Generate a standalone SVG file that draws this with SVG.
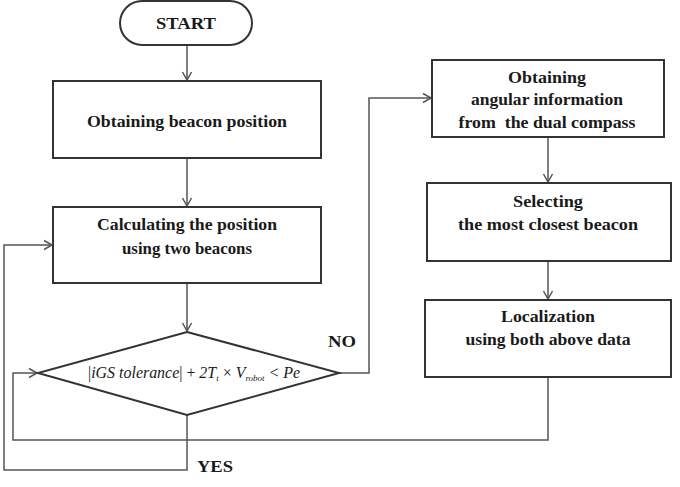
<svg xmlns="http://www.w3.org/2000/svg" width="680" height="487" viewBox="0 0 680 487">
<defs>
<style>
.box{fill:#fff;stroke:#333;stroke-width:2}
.ln{fill:none;stroke:#555;stroke-width:1.5}
.t{font-family:'Liberation Serif','DejaVu Serif',serif;font-weight:bold;font-size:17px;fill:#1a1a1a;text-anchor:middle}
.f{font-family:'Liberation Serif','DejaVu Serif',serif;font-style:italic;font-size:16px;fill:#1a1a1a}
</style>
<marker id="ah" markerWidth="12" markerHeight="12" refX="9" refY="6" orient="auto" markerUnits="userSpaceOnUse">
<path d="M1,1.5 L9,6 L1,10.5" fill="none" stroke="#555" stroke-width="1.5"/>
</marker>
</defs>
<rect width="680" height="487" fill="#fff"/>
<g id="connectors">
<line class="ln" x1="187" y1="45" x2="187" y2="80" marker-end="url(#ah)"/>
<line class="ln" x1="187" y1="158" x2="187" y2="206" marker-end="url(#ah)"/>
<line class="ln" x1="187" y1="283" x2="187" y2="331" marker-end="url(#ah)"/>
<polyline class="ln" points="339,373 369,373 369,98 431,98" marker-end="url(#ah)"/>
<line class="ln" x1="548" y1="137" x2="548" y2="182" marker-end="url(#ah)"/>
<line class="ln" x1="548" y1="261" x2="548" y2="299" marker-end="url(#ah)"/>
<polyline class="ln" points="548,377 548,440 13,440 13,373 37,373" marker-end="url(#ah)"/>
<polyline class="ln" points="187,415 187,470 4,470 4,245 52,245" marker-end="url(#ah)"/>
</g>
<g id="start">
<rect class="box" x="120" y="1" width="132" height="44" rx="22" ry="22"/>
<text class="t" x="186" y="29" font-size="18" textLength="60" lengthAdjust="spacingAndGlyphs">START</text>
</g>
<g id="obtain-beacon">
<rect class="box" x="53" y="81" width="268" height="77"/>
<text class="t" x="187" y="127" textLength="200" lengthAdjust="spacingAndGlyphs">Obtaining beacon position</text>
</g>
<g id="calc-position">
<rect class="box" x="53" y="207" width="268" height="76"/>
<text class="t" x="187" y="230" textLength="180" lengthAdjust="spacingAndGlyphs">Calculating the position</text>
<text class="t" x="187" y="254" textLength="130" lengthAdjust="spacingAndGlyphs">using two beacons</text>
</g>
<g id="decision">
<polygon class="box" points="187,332 339,373 187,415 38,373"/>
<text class="f" x="88" y="378" textLength="212" lengthAdjust="spacingAndGlyphs"><tspan font-style="normal">|</tspan>iGS tolerance<tspan font-style="normal">|  +  </tspan>2T<tspan font-size="9" dy="3">t</tspan><tspan dy="-3" font-style="normal"> × </tspan>V<tspan font-size="9" dy="3">robot</tspan><tspan dy="-3"> &lt; Pe</tspan></text>
</g>
<g id="angular">
<rect class="box" x="432" y="60" width="232" height="77"/>
<text class="t" x="547" y="83" textLength="78" lengthAdjust="spacingAndGlyphs">Obtaining</text>
<text class="t" x="547" y="105" textLength="152" lengthAdjust="spacingAndGlyphs">angular information</text>
<text class="t" x="547" y="128" textLength="177" lengthAdjust="spacingAndGlyphs" xml:space="preserve">from  the dual compass</text>
</g>
<g id="selecting">
<rect class="box" x="427" y="183" width="244" height="78"/>
<text class="t" x="548" y="207" textLength="70" lengthAdjust="spacingAndGlyphs">Selecting</text>
<text class="t" x="548" y="230" textLength="180" lengthAdjust="spacingAndGlyphs">the most closest beacon</text>
</g>
<g id="localization">
<rect class="box" x="425" y="300" width="246" height="77"/>
<text class="t" x="548" y="322" textLength="94" lengthAdjust="spacingAndGlyphs">Localization</text>
<text class="t" x="548" y="345" textLength="165" lengthAdjust="spacingAndGlyphs">using both above data</text>
</g>
<g id="labels">
<text class="t" x="342" y="347" font-size="17" textLength="28" lengthAdjust="spacingAndGlyphs">NO</text>
<text class="t" x="215" y="472" font-size="18" textLength="36" lengthAdjust="spacingAndGlyphs">YES</text>
</g>
</svg>
